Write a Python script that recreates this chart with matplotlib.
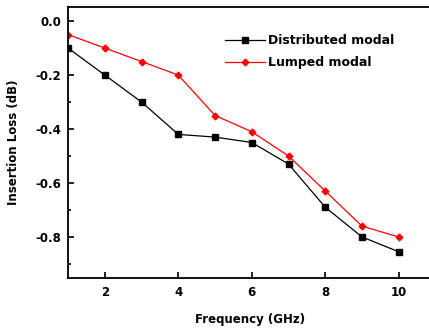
#!/usr/bin/env python3
''' Insertion loss vs frequency, distributed vs lumped model
'''

import numpy as np
import matplotlib
matplotlib.use('Agg')
from matplotlib import pyplot
from matplotlib.ticker import MultipleLocator, NullLocator, FormatStrFormatter

#
# data
#

freq = [1, 2, 3, 4, 5, 6, 7, 8, 9, 10]
loss_distributed = [-0.10, -0.20, -0.30, -0.42, -0.43, -0.45, -0.53, -0.69, -0.80, -0.855]
loss_lumped = [-0.05, -0.10, -0.15, -0.20, -0.35, -0.41, -0.50, -0.63, -0.76, -0.80]

#
# plot
#

pyplot.rcParams['font.family'] = ['DejaVu Sans']
pyplot.rcParams['font.weight'] = 'bold'
pyplot.rcParams['axes.labelweight'] = 'bold'

fig = pyplot.figure(figsize=(4.29, 3.29), dpi=100)
# axes runs past the right edge of the picture, like the cropped original
ax = fig.add_axes([68/429, 51/329, 365/429, 271/329])

ax.plot(freq, loss_distributed, color='black', lw=0.9, marker='s', ms=4.8,
    label='Distributed modal')
ax.plot(freq, loss_lumped, color='#ff0000', lw=0.9, marker='D', ms=3.4,
    label='Lumped modal')

ax.set_xlim(1, 10.93)
ax.set_ylim(-0.952, 0.052)
ax.xaxis.set_major_locator(MultipleLocator(2))
ax.xaxis.set_minor_locator(NullLocator())
ax.yaxis.set_major_locator(MultipleLocator(0.2))
ax.yaxis.set_minor_locator(MultipleLocator(0.1))
ax.yaxis.set_major_formatter(FormatStrFormatter('%.1f'))

ax.tick_params(which='both', direction='in', labelsize=8.5, width=1.2)
ax.tick_params(axis='y', which='major', length=4, pad=5)
ax.tick_params(axis='x', which='major', length=4, pad=6)
ax.tick_params(which='minor', length=2.5)
for s in ax.spines.values():
    s.set_linewidth(1.3)
ax.spines['right'].set_visible(False)

ax.set_xlabel('Frequency (GHz)', fontsize=8.5, labelpad=10)
ax.set_ylabel('Insertion Loss (dB)', fontsize=8.5, labelpad=11)

ax.legend(loc='upper left', bbox_to_anchor=(157/365, 0.90), frameon=False,
    borderpad=0, borderaxespad=0, fontsize=9, handlelength=3.2,
    handletextpad=0.25, labelspacing=0.75)

fig.savefig('out.png', dpi=100)
